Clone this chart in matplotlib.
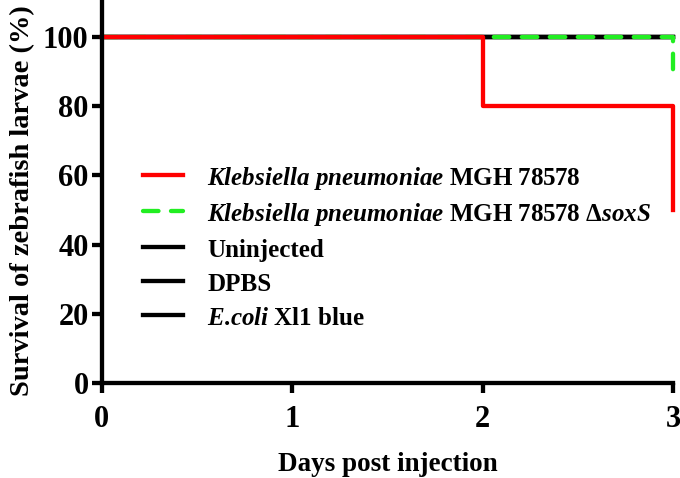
import numpy as np
import matplotlib.pyplot as plt

plt.rcParams['font.family'] = ['Liberation Serif', 'DejaVu Serif']
plt.rcParams['font.weight'] = 'bold'
plt.rcParams['mathtext.fontset'] = 'custom'
plt.rcParams['mathtext.it'] = 'Liberation Serif:italic:bold'
plt.rcParams['mathtext.rm'] = 'Liberation Serif:bold'

# survival data (event days and % surviving after each event)
kp_days = [0, 2, 3]
kp_surv = [100, 80, 50]
sox_days = [0, 3]
sox_surv = [100, 90]
ctrl_days = [0, 3]
ctrl_surv = [100, 100]
x_end = 3


def km_path(days, surv, end):
    xs, ys = [days[0]], [surv[0]]
    for d, s in zip(days[1:], surv[1:]):
        xs += [d, d]
        ys += [ys[-1], s]
    if xs[-1] < end:
        xs.append(end)
        ys.append(ys[-1])
    return xs, ys


fig, ax = plt.subplots(figsize=(6.8, 4.78), dpi=100)
fig.subplots_adjust(left=0.1496, right=0.9897, top=1.0, bottom=0.1987)

lw = 3.1
for lab in ['Uninjected', 'DPBS', r'$E$.$coli$ Xl1 blue']:
    x, y = km_path(ctrl_days, ctrl_surv, x_end)
    ax.plot(x, y, color='black', lw=lw, label=lab, clip_on=False,
            solid_joinstyle='miter')
x, y = km_path(sox_days, sox_surv, x_end)
ax.plot(x, y, color='#22ee22', lw=lw, ls=(0, (3.6, 2.9)), dash_capstyle='round',
        label=r'$Klebsiella\ pneumoniae$ MGH 78578 $\mathit{\Delta soxS}$',
        clip_on=False)
x, y = km_path(kp_days, kp_surv, x_end)
ax.plot(x, y, color='#ff0000', lw=lw, label=r'$Klebsiella\ pneumoniae$ MGH 78578',
        clip_on=False)

# taller handle boxes keep the rows evenly spaced (mathtext rows are taller)
handles, labels = ax.get_legend_handles_labels()
order = [4, 3, 0, 1, 2]
ax.legend([handles[i] for i in order], [labels[i] for i in order],
          loc='upper left', bbox_to_anchor=(0.055, 0.598), frameon=False,
          fontsize=18, handlelength=1.6, handletextpad=0.96, labelspacing=0.31,
          handleheight=1.2, borderaxespad=0)

ax.set_xlim(0, 3)
ax.set_ylim(0, 110.7)
ax.set_xticks([0, 1, 2, 3])
ax.set_yticks([0, 20, 40, 60, 80, 100])
ax.spines['top'].set_visible(False)
ax.spines['right'].set_visible(False)
for s in ['left', 'bottom']:
    ax.spines[s].set_linewidth(lw)
ax.tick_params(width=lw, length=7, labelsize=22)
ax.tick_params(axis='x', pad=8.5)
ax.tick_params(axis='y', pad=2.5)
for t in ax.get_xticklabels() + ax.get_yticklabels():
    t.set_fontweight('bold')
ax.set_xlabel('Days post injection', fontsize=19.5, fontweight='bold', labelpad=13)
ax.set_ylabel('Survival of zebrafish larvae (%)', fontsize=20.5, fontweight='bold')
ax.yaxis.set_label_coords(-0.117, 0.475)

fig.savefig('out.png', dpi=100)
